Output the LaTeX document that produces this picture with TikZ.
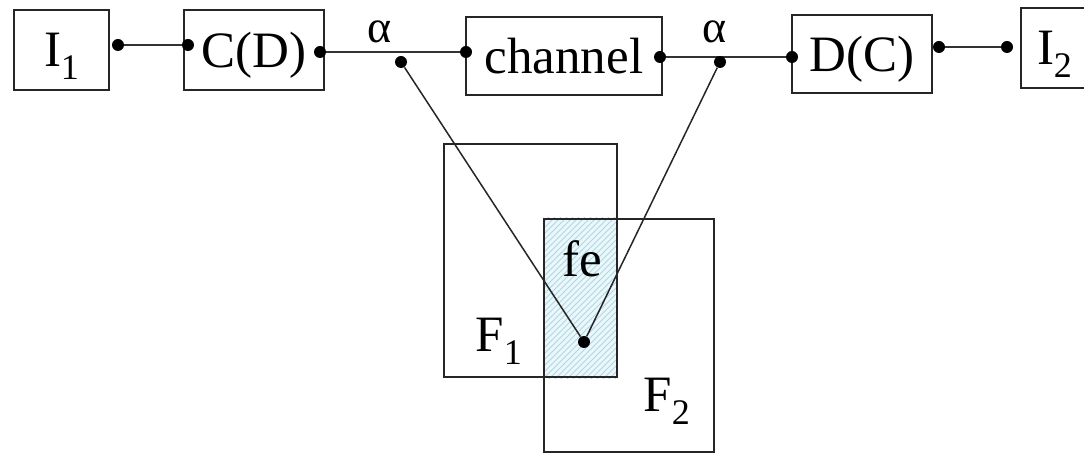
\documentclass[tikz,border=0pt]{standalone}
\usepackage{fontspec}
\setmainfont{Liberation Serif}
\usetikzlibrary{patterns,backgrounds}

\newcommand{\lowsub}[1]{\smash{\raisebox{-6.5pt}{\fontsize{18}{20}\selectfont #1}}}

\begin{document}
\begin{tikzpicture}[x=0.5pt, y=-0.5pt,
  blk/.style={draw=black!85, line width=1.2pt, inner sep=0pt, text depth=0pt, font=\fontsize{25.5}{28}\selectfont},
  pin/.style={circle, fill=black, inner sep=0pt, minimum size=6pt},
  wire/.style={draw=black!80, line width=1pt},
  ray/.style={draw=black!85, line width=0.75pt},
  lbl/.style={inner sep=0pt, font=\fontsize{25.5}{28}\selectfont},
  alf/.style={inner sep=0pt, font=\fontsize{23}{24}\selectfont}]
  \clip (0,0) rectangle (1084,454);
  % top chain
  \node[blk, minimum width=47.5pt, minimum height=40pt] (in1) at (61.5,50) {I\lowsub{1}};
  \node[blk, minimum width=70pt, minimum height=40pt] (cod) at (254,50) {C(D)};
  \node[blk, minimum width=98pt, minimum height=39pt] (chan) at (564,56) {channel};
  \node[blk, minimum width=70pt, minimum height=39pt] (dec) at (862,54) {D(C)};
  \node[blk, minimum width=33.5pt, minimum height=40pt] (in2) at (1054.5,48) {I\lowsub{2}};
  \node[pin] (in1r) at (118,45) {};
  \node[pin] (codl) at (188,45) {};
  \node[pin] (codr) at (320,52) {};
  \node[pin] (chanl) at (466,52) {};
  \node[pin] (chanr) at (660,57) {};
  \node[pin] (decl) at (792,57) {};
  \node[pin] (decr) at (939,47) {};
  \node[pin] (in2l) at (1007,47) {};
  \draw[wire] (in1r) -- (codl);
  \draw[wire] (codr) -- (chanl);
  \draw[wire] (chanr) -- (decl);
  \draw[wire] (decr) -- (in2l);
  \node[alf] (al1) at (380,32) {α};
  \node[alf] (al2) at (715,32) {α};
  \node[pin] (tap1) at (401,62) {};
  \node[pin] (tap2) at (720,62) {};
  % sets
  \node[draw=black!85, line width=1.2pt, minimum width=86.5pt, minimum height=116.5pt] (f1) at (530.5,260.5) {};
  \node[draw=black!85, line width=1.2pt, minimum width=85pt, minimum height=116.5pt] (f2) at (629,335.5) {};
  \begin{scope}[on background layer]
    \fill[cyan!9] (f2.north west) rectangle (f1.south east);
    \fill[pattern=north east lines, pattern color=cyan!30!gray!45] (f2.north west) rectangle (f1.south east);
  \end{scope}
  \node[pin] (fed) at (584,342) {};
  \draw[ray] (tap1) -- (fed);
  \draw[ray] (tap2) -- (fed);
  \node[lbl, anchor=base west] (fe) at (562,277) {fe};
  \node[lbl, anchor=base west] (f1l) at (475,352) {F\lowsub{1}};
  \node[lbl, anchor=base west] (f2l) at (643,412) {F\lowsub{2}};
\end{tikzpicture}
\end{document}
